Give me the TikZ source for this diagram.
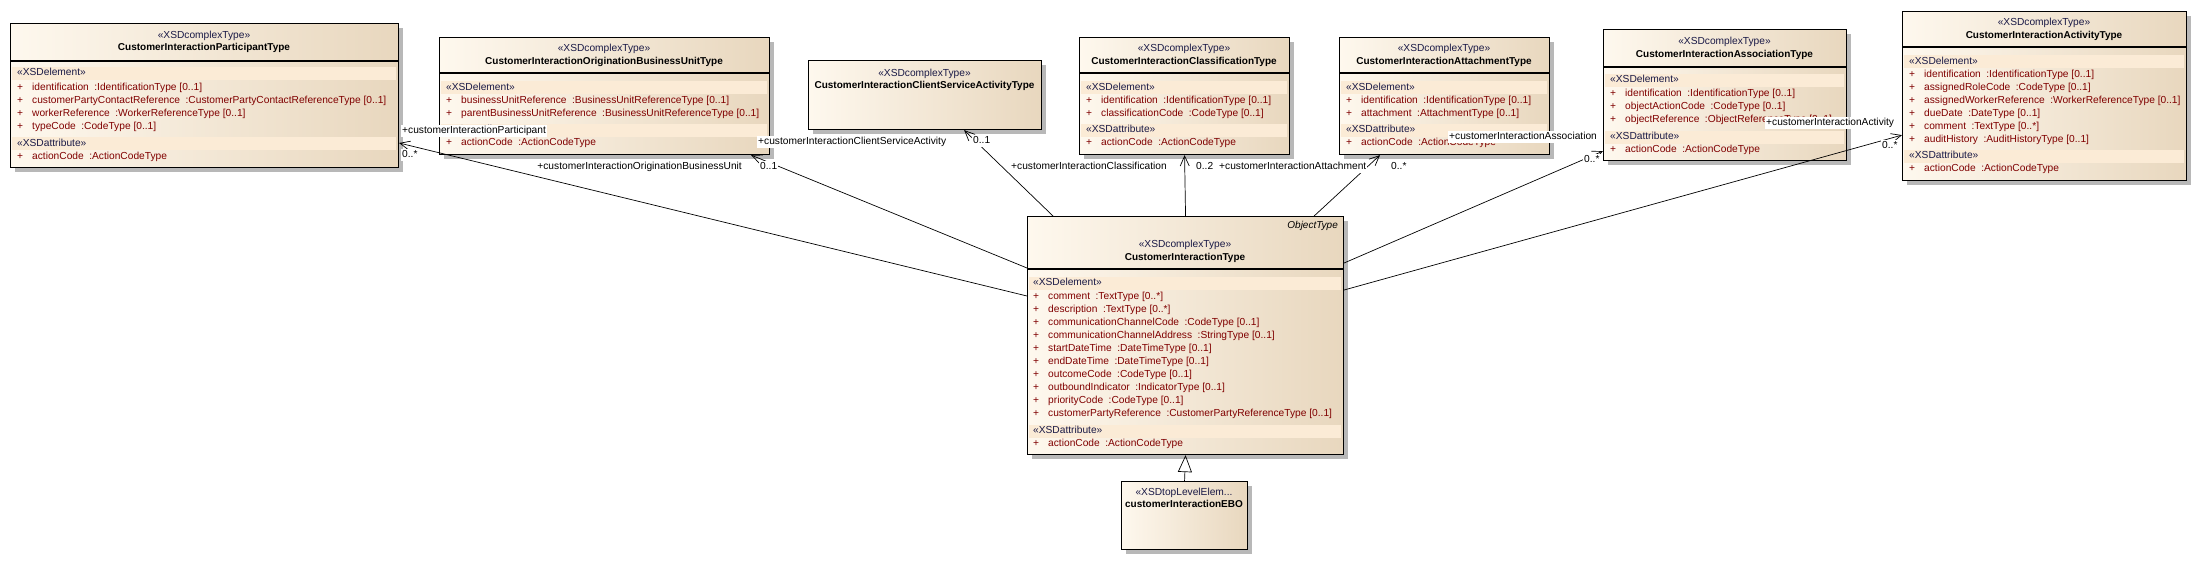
\documentclass[tikz,border=0pt]{standalone}
\usepackage{fontspec}
\setmainfont{Liberation Sans}
\usetikzlibrary{arrows.meta,shadows}

\definecolor{boxleft}{RGB}{254,248,238}
\definecolor{boxright}{RGB}{232,215,190}
\definecolor{bandfill}{RGB}{251,235,214}
\definecolor{attrred}{RGB}{128,0,0}
\definecolor{stereoblue}{RGB}{25,25,70}

\newcommand{\attrplus}{\makebox[15pt][l]{+}}
\newcommand{\attrdef}[2]{\attrplus#1\hspace{5.5pt}:#2}

\tikzset{
  classbox/.style={draw, line width=1.1pt, left color=boxleft, right color=boxright,
    inner sep=0pt, anchor=north west,
    drop shadow={shadow xshift=4pt, shadow yshift=-4pt, fill=black!28, opacity=1}},
  txt/.style={inner sep=0pt, text height=7.6pt, text depth=2.2pt},
  stereo/.style={txt, text=stereoblue},
  cname/.style={txt, font=\bfseries},
  sect/.style={txt, anchor=west, text=stereoblue},
  attr/.style={txt, anchor=west, text=attrred},
  rolelbl/.style={txt, inner sep=1pt, fill=white},
  assoc/.style={line width=0.7pt, -{Straight Barb[length=10pt,width=9pt]}},
  generalize/.style={line width=0.7pt, -{Triangle[open,length=17pt,width=14pt]}},
}

\begin{document}
\begin{tikzpicture}[x=1pt, y=-1pt, font=\fontsize{10.2}{12}\selectfont]
	\useasboundingbox (0,0) rectangle (2197,560);

	% participant
	\node[classbox, minimum width=388pt, minimum height=144pt] (cipart) at (10,23) {};
	\node[stereo] (cipart-st) at (204,36) {«XSDcomplexType»};
	\node[cname] (cipart-nm) at (204,48) {CustomerInteractionParticipantType};
	\draw[line width=1.1pt] (10,61) -- (398,61);
	\fill[bandfill] (12,67) rectangle (396,80);
	\node[sect] (cipart-el) at (17,73) {«XSDelement»};
	\foreach \txt [count=\i from 0] in {
		\attrdef{identification}{IdentificationType [0..1]},
		\attrdef{customerPartyContactReference}{CustomerPartyContactReferenceType [0..1]},
		\attrdef{workerReference}{WorkerReferenceType [0..1]},
		\attrdef{typeCode}{CodeType [0..1]}}
		\node[attr] (cipart-a\i) at (17,88+13*\i) {\txt};
	\fill[bandfill] (12,137) rectangle (396,150);
	\node[sect] (cipart-at) at (17,144) {«XSDattribute»};
	\node[attr] (cipart-ac) at (17,157) {\attrdef{actionCode}{ActionCodeType}};

	% origination business unit
	\node[classbox, minimum width=330pt, minimum height=117pt] (ciorig) at (439,37) {};
	\node[stereo] (ciorig-st) at (604,49) {«XSDcomplexType»};
	\node[cname] (ciorig-nm) at (604,62) {CustomerInteractionOriginationBusinessUnitType};
	\draw[line width=1.1pt] (439,73) -- (769,73);
	\fill[bandfill] (441,81) rectangle (767,94);
	\node[sect] (ciorig-el) at (446,88) {«XSDelement»};
	\foreach \txt [count=\i from 0] in {
		\attrdef{businessUnitReference}{BusinessUnitReferenceType [0..1]},
		\attrdef{parentBusinessUnitReference}{BusinessUnitReferenceType [0..1]}}
		\node[attr] (ciorig-a\i) at (446,101+13*\i) {\txt};
	\fill[bandfill] (441,124) rectangle (767,137);
	\node[sect] (ciorig-at) at (446,130) {«XSDattribute»};
	\node[attr] (ciorig-ac) at (446,143) {\attrdef{actionCode}{ActionCodeType}};

	% client service activity
	\node[classbox, minimum width=233pt, minimum height=69pt] (ciclient) at (808,60) {};
	\node[stereo] (ciclient-st) at (924.5,74) {«XSDcomplexType»};
	\node[cname] (ciclient-nm) at (924.5,86) {CustomerInteractionClientServiceActivityType};

	% classification
	\node[classbox, minimum width=210pt, minimum height=117pt] (ciclass) at (1079,37) {};
	\node[stereo] (ciclass-st) at (1184,49) {«XSDcomplexType»};
	\node[cname] (ciclass-nm) at (1184,62) {CustomerInteractionClassificationType};
	\draw[line width=1.1pt] (1079,73) -- (1289,73);
	\fill[bandfill] (1081,81) rectangle (1287,94);
	\node[sect] (ciclass-el) at (1086,88) {«XSDelement»};
	\foreach \txt [count=\i from 0] in {
		\attrdef{identification}{IdentificationType [0..1]},
		\attrdef{classificationCode}{CodeType [0..1]}}
		\node[attr] (ciclass-a\i) at (1086,101+13*\i) {\txt};
	\fill[bandfill] (1081,124) rectangle (1287,137);
	\node[sect] (ciclass-at) at (1086,130) {«XSDattribute»};
	\node[attr] (ciclass-ac) at (1086,143) {\attrdef{actionCode}{ActionCodeType}};

	% attachment
	\node[classbox, minimum width=210pt, minimum height=117pt] (ciattach) at (1339,37) {};
	\node[stereo] (ciattach-st) at (1444,49) {«XSDcomplexType»};
	\node[cname] (ciattach-nm) at (1444,62) {CustomerInteractionAttachmentType};
	\draw[line width=1.1pt] (1339,73) -- (1549,73);
	\fill[bandfill] (1341,81) rectangle (1547,94);
	\node[sect] (ciattach-el) at (1346,88) {«XSDelement»};
	\foreach \txt [count=\i from 0] in {
		\attrdef{identification}{IdentificationType [0..1]},
		\attrdef{attachment}{AttachmentType [0..1]}}
		\node[attr] (ciattach-a\i) at (1346,101+13*\i) {\txt};
	\fill[bandfill] (1341,124) rectangle (1547,137);
	\node[sect] (ciattach-at) at (1346,130) {«XSDattribute»};
	\node[attr] (ciattach-ac) at (1346,143) {\attrdef{actionCode}{ActionCodeType}};

	% association
	\node[classbox, minimum width=243pt, minimum height=131pt] (ciassoc) at (1603,29) {};
	\node[stereo] (ciassoc-st) at (1724.5,42) {«XSDcomplexType»};
	\node[cname] (ciassoc-nm) at (1724.5,55) {CustomerInteractionAssociationType};
	\draw[line width=1.1pt] (1603,67) -- (1846,67);
	\fill[bandfill] (1605,74) rectangle (1844,87);
	\node[sect] (ciassoc-el) at (1610,80) {«XSDelement»};
	\foreach \txt [count=\i from 0] in {
		\attrdef{identification}{IdentificationType [0..1]},
		\attrdef{objectActionCode}{CodeType [0..1]},
		\attrdef{objectReference}{ObjectReferenceType [0..1]}}
		\node[attr] (ciassoc-a\i) at (1610,94+13*\i) {\txt};
	\fill[bandfill] (1605,131) rectangle (1844,144);
	\node[sect] (ciassoc-at) at (1610,137) {«XSDattribute»};
	\node[attr] (ciassoc-ac) at (1610,150) {\attrdef{actionCode}{ActionCodeType}};

	% activity
	\node[classbox, minimum width=284pt, minimum height=169pt] (ciact) at (1902,11) {};
	\node[stereo] (ciact-st) at (2044,23) {«XSDcomplexType»};
	\node[cname] (ciact-nm) at (2044,36) {CustomerInteractionActivityType};
	\draw[line width=1.1pt] (1902,47) -- (2186,47);
	\fill[bandfill] (1904,55) rectangle (2184,68);
	\node[sect] (ciact-el) at (1909,62) {«XSDelement»};
	\foreach \txt [count=\i from 0] in {
		\attrdef{identification}{IdentificationType [0..1]},
		\attrdef{assignedRoleCode}{CodeType [0..1]},
		\attrdef{assignedWorkerReference}{WorkerReferenceType [0..1]},
		\attrdef{dueDate}{DateType [0..1]},
		\attrdef{comment}{TextType [0..*]},
		\attrdef{auditHistory}{AuditHistoryType [0..1]}}
		\node[attr] (ciact-a\i) at (1909,75+13*\i) {\txt};
	\fill[bandfill] (1904,150) rectangle (2184,163);
	\node[sect] (ciact-at) at (1909,156) {«XSDattribute»};
	\node[attr] (ciact-ac) at (1909,169) {\attrdef{actionCode}{ActionCodeType}};

	% customer interaction
	\node[classbox, minimum width=316pt, minimum height=238pt] (ci) at (1027,216) {};
	\node[txt, anchor=east, font=\itshape] (ci-ot) at (1338,226) {ObjectType};
	\node[stereo] (ci-st) at (1185,245) {«XSDcomplexType»};
	\node[cname] (ci-nm) at (1185,258) {CustomerInteractionType};
	\draw[line width=1.1pt] (1027,269) -- (1343,269);
	\fill[bandfill] (1029,277) rectangle (1341,290);
	\node[sect] (ci-el) at (1033,283) {«XSDelement»};
	\foreach \txt [count=\i from 0] in {
		\attrdef{comment}{TextType [0..*]},
		\attrdef{description}{TextType [0..*]},
		\attrdef{communicationChannelCode}{CodeType [0..1]},
		\attrdef{communicationChannelAddress}{StringType [0..1]},
		\attrdef{startDateTime}{DateTimeType [0..1]},
		\attrdef{endDateTime}{DateTimeType [0..1]},
		\attrdef{outcomeCode}{CodeType [0..1]},
		\attrdef{outboundIndicator}{IndicatorType [0..1]},
		\attrdef{priorityCode}{CodeType [0..1]},
		\attrdef{customerPartyReference}{CustomerPartyReferenceType [0..1]}}
		\node[attr] (ci-a\i) at (1033,297+13*\i) {\txt};
	\fill[bandfill] (1029,425) rectangle (1341,438);
	\node[sect] (ci-at) at (1033,431) {«XSDattribute»};
	\node[attr] (ci-ac) at (1033,444) {\attrdef{actionCode}{ActionCodeType}};

	% ebo
	\node[classbox, minimum width=126pt, minimum height=68pt] (ciebo) at (1121,481) {};
	\node[stereo] (ciebo-st) at (1184,493) {«XSDtopLevelElem...};
	\node[cname] (ciebo-nm) at (1184,505) {customerInteractionEBO};

	% connectors
	\draw[assoc] ([yshift=-80pt]ci.north west) -- ([yshift=-120pt]cipart.north east);
	\draw[assoc] ([yshift=-52pt]ci.north west) -- ([xshift=-19pt]ciorig.south east);
	\draw[assoc] ([xshift=26pt]ci.north west) -- ([xshift=-78pt]ciclient.south east);
	\draw[assoc] (ci.north) -- (ciclass.south);
	\draw[assoc] ([xshift=-30pt]ci.north east) -- ([xshift=41pt]ciattach.south west);
	\draw[assoc] ([yshift=-47pt]ci.north east) -- ([yshift=10pt]ciassoc.south west);
	\draw[assoc] ([yshift=-74pt]ci.north east) -- ([yshift=46pt]ciact.south west);
	\draw[generalize] (ciebo.north) -- (ci.south);

	% role names and multiplicities
	\node[rolelbl, anchor=west] (lbl-part) at (401,131) {+customerInteractionParticipant};
	\node[rolelbl, anchor=west] (mul-part) at (401,155) {0..*};
	\node[rolelbl, anchor=east] (lbl-orig) at (743,167) {+customerInteractionOriginationBusinessUnit};
	\node[rolelbl, anchor=west] (mul-orig) at (759,167) {0..1};
	\node[rolelbl, anchor=west] (lbl-client) at (757,142) {+customerInteractionClientServiceActivity};
	\node[rolelbl, anchor=west] (mul-client) at (972,141) {0..1};
	\node[rolelbl, anchor=east] (lbl-class) at (1168,167) {+customerInteractionClassification};
	\node[rolelbl, anchor=west] (mul-class) at (1195,167) {0..2};
	\node[rolelbl, anchor=west] (lbl-attach) at (1218,167) {+customerInteractionAttachment};
	\node[rolelbl, anchor=west] (mul-attach) at (1390,167) {0..*};
	\node[rolelbl, anchor=west] (lbl-assoc) at (1448,137) {+customerInteractionAssociation};
	\node[rolelbl, anchor=west] (mul-assoc) at (1583,160) {0..*};
	\node[rolelbl, anchor=west] (lbl-act) at (1765,123) {+customerInteractionActivity};
	\node[rolelbl, anchor=west] (mul-act) at (1881,146) {0..*};
\end{tikzpicture}
\end{document}
